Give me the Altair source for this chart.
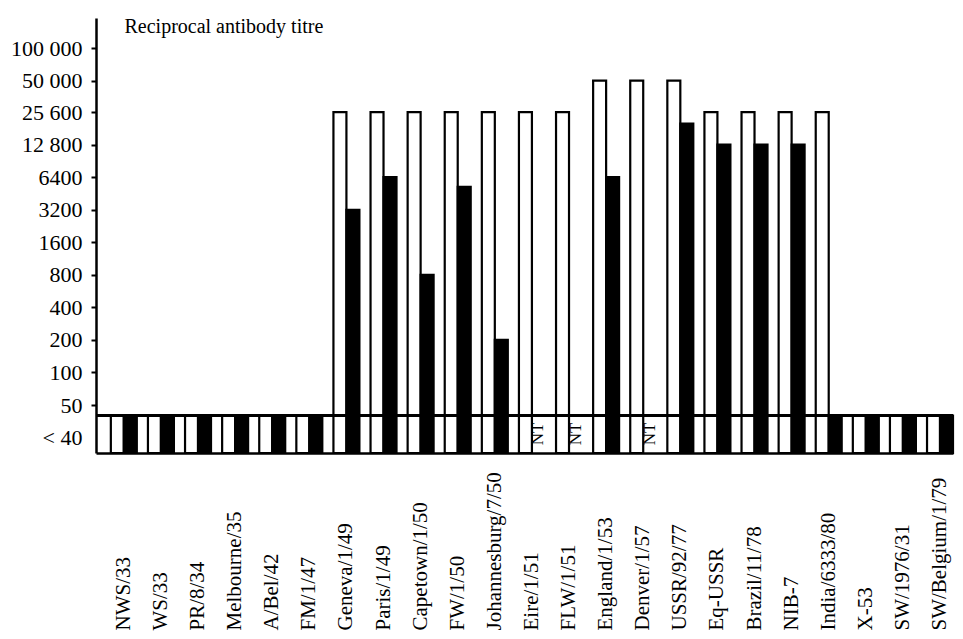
import altair as alt
import pandas as pd

strains = ["NWS/33", "WS/33", "PR/8/34", "Melbourne/35", "A/Bel/42", "FM/1/47",
           "Geneva/1/49", "Paris/1/49", "Capetown/1/50", "FW/1/50",
           "Johannesburg/7/50", "Eire/1/51", "FLW/1/51", "England/1/53",
           "Denver/1/57", "USSR/92/77", "Eq-USSR", "Brazil/11/78", "NIB-7",
           "India/6333/80", "X-53", "SW/1976/31", "SW/Belgium/1/79"]

# 40 stands for "< 40" (below detection); None = NT (not tested)
white_titre = [40, 40, 40, 40, 40, 40,
               25600, 25600, 25600, 25600, 25600, 25600, 25600,
               50000, 50000, 50000,
               25600, 25600, 25600, 25600,
               40, 40, 40]
black_titre = [40, 40, 40, 40, 40, 40,
               3200, 6400, 800, 5200, 200, None, None,
               6400, None, 20000,
               12800, 12800, 12800, 40,
               40, 40, 40]

y_ticks = [25, 50, 100, 200, 400, 800, 1600, 3200, 6400, 12800, 25600, 50000, 100000]
y_min, y_max = 18, 190000
threshold = 40
nt_level = 27

series = ["white", "black"]

rows = []
nt_rows = []
for s, w, b in zip(strains, white_titre, black_titre):
    rows.append({"strain": s, "serum": "white", "titre": w})
    if b is None:
        nt_rows.append({"strain": s, "serum": "black", "label": "NT"})
    else:
        rows.append({"strain": s, "serum": "black", "titre": b})
df = pd.DataFrame(rows)
df_nt = pd.DataFrame(nt_rows)

W, H = 857, 435
FONT = "Liberation Serif"

xscale = alt.Scale(domain=strains, paddingInner=0.3, paddingOuter=0.2, align=1)
yscale = alt.Scale(type="log", domain=[y_min, y_max], nice=False)
offscale = alt.Scale(domain=series, paddingInner=0, paddingOuter=0)

x_axis = alt.Axis(title=None, labelAngle=270, labelAlign="left", labelBaseline="middle",
                  labelPadding=177, ticks=False, domainWidth=2.5, domainColor="black",
                  labelFont=FONT, labelFontSize=21, labelColor="black", labelLimit=400,
                  labelOverlap=False)

label_expr = ("datum.value < 40 ? '< 40' : (datum.value >= 10000 ? "
              "replace(format(datum.value, ','), ',', ' ') : format(datum.value, 'd'))")

y_axis = alt.Axis(title="Reciprocal antibody titre", titleAngle=0, titleAlign="left",
                  titleBaseline="alphabetic", titleX=28, titleY=14, titleFont=FONT,
                  titleFontSize=20, titleFontWeight="normal", titleColor="black",
                  values=y_ticks, labelExpr=label_expr, grid=False,
                  domainWidth=2.5, domainColor="black", tickWidth=2, tickSize=5,
                  tickColor="black",
                  tickOpacity={"condition": {"test": "datum.value < 40", "value": 0}, "value": 1},
                  labelPadding=9, labelFont=FONT, labelFontSize=22, labelColor="black")

bars = alt.Chart(df).mark_bar(stroke="black", strokeWidth=2.2).encode(
    x=alt.X("strain:N", scale=xscale, axis=x_axis, sort=strains),
    xOffset=alt.XOffset("serum:N", scale=offscale, sort=series),
    y=alt.Y("titre:Q", scale=yscale, axis=y_axis),
    y2=alt.datum(y_min),
    fill=alt.Fill("serum:N", scale=alt.Scale(domain=series, range=["white", "black"]),
                  legend=None),
)

box_top = alt.Chart(df).mark_rule(color="black", strokeWidth=2).encode(
    y=alt.datum(threshold),
    x=alt.value(0),
    x2=alt.value(W),
)

nt_text = alt.Chart(df_nt).mark_text(angle=270, font=FONT, fontSize=17, color="black",
                                     align="center", baseline="middle").encode(
    x=alt.X("strain:N", scale=xscale, sort=strains),
    xOffset=alt.XOffset("serum:N", scale=offscale, sort=series),
    y=alt.datum(nt_level),
    text="label:N",
)

chart = alt.layer(bars, box_top, nt_text).properties(
    width=W, height=H,
    padding={"left": 88, "top": 10, "right": 2, "bottom": 178},
    autosize="none",
).configure_view(strokeWidth=0)

chart.save("out.html", embed_options={"renderer": "svg", "actions": False})
